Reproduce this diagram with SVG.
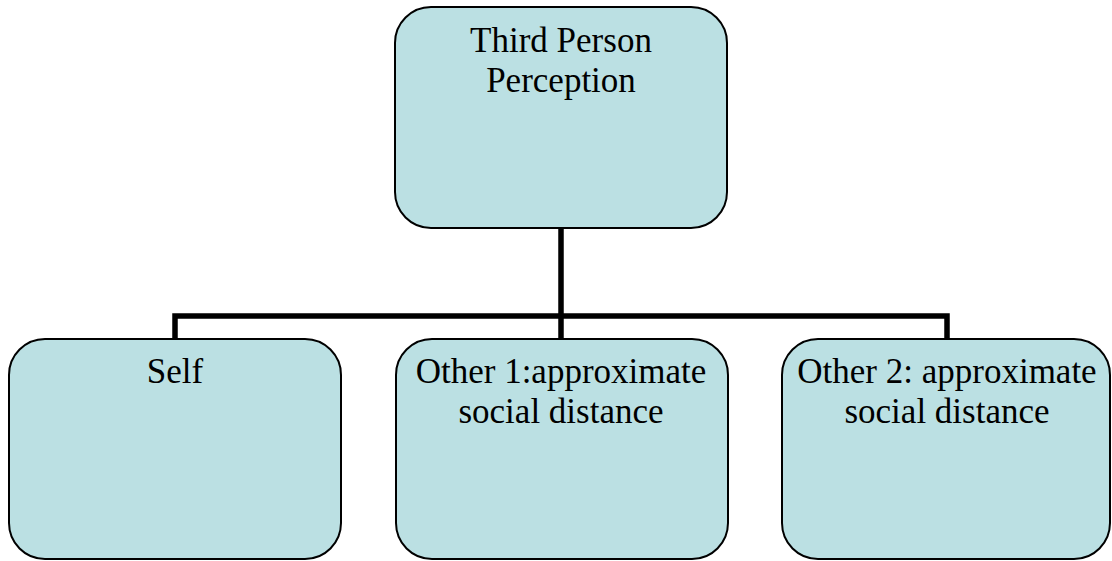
<svg xmlns="http://www.w3.org/2000/svg" width="1112" height="561" viewBox="0 0 1112 561">
<style>
.box{fill:#BBE0E3;stroke:#000;stroke-width:2}
.lbl{font-family:'Liberation Serif',serif;font-size:35px;fill:#000;text-anchor:middle}
.conn{fill:none;stroke:#000;stroke-width:5.5;stroke-linejoin:miter}
</style>
<rect width="1112" height="561" fill="#fff"/>
<g id="connectors">
<path class="conn" d="M561 228 V316 M175 339 V316 H947 V339 M561 316 V339"/>
</g>
<g id="node-top">
<rect class="box" x="395" y="7" width="332" height="221" rx="36" ry="36"/>
<text class="lbl" x="561" y="52">Third Person</text>
<text class="lbl" x="561" y="92">Perception</text>
</g>
<g id="node-self">
<rect class="box" x="9" y="339" width="332" height="220" rx="36" ry="36"/>
<text class="lbl" x="175" y="383">Self</text>
</g>
<g id="node-other1">
<rect class="box" x="396" y="339" width="332" height="220" rx="36" ry="36"/>
<text class="lbl" x="561" y="383">Other 1:approximate</text>
<text class="lbl" x="561" y="423">social distance</text>
</g>
<g id="node-other2">
<rect class="box" x="782" y="339" width="328" height="220" rx="36" ry="36"/>
<text class="lbl" x="947" y="383">Other 2: approximate</text>
<text class="lbl" x="947" y="423">social distance</text>
</g>
</svg>
